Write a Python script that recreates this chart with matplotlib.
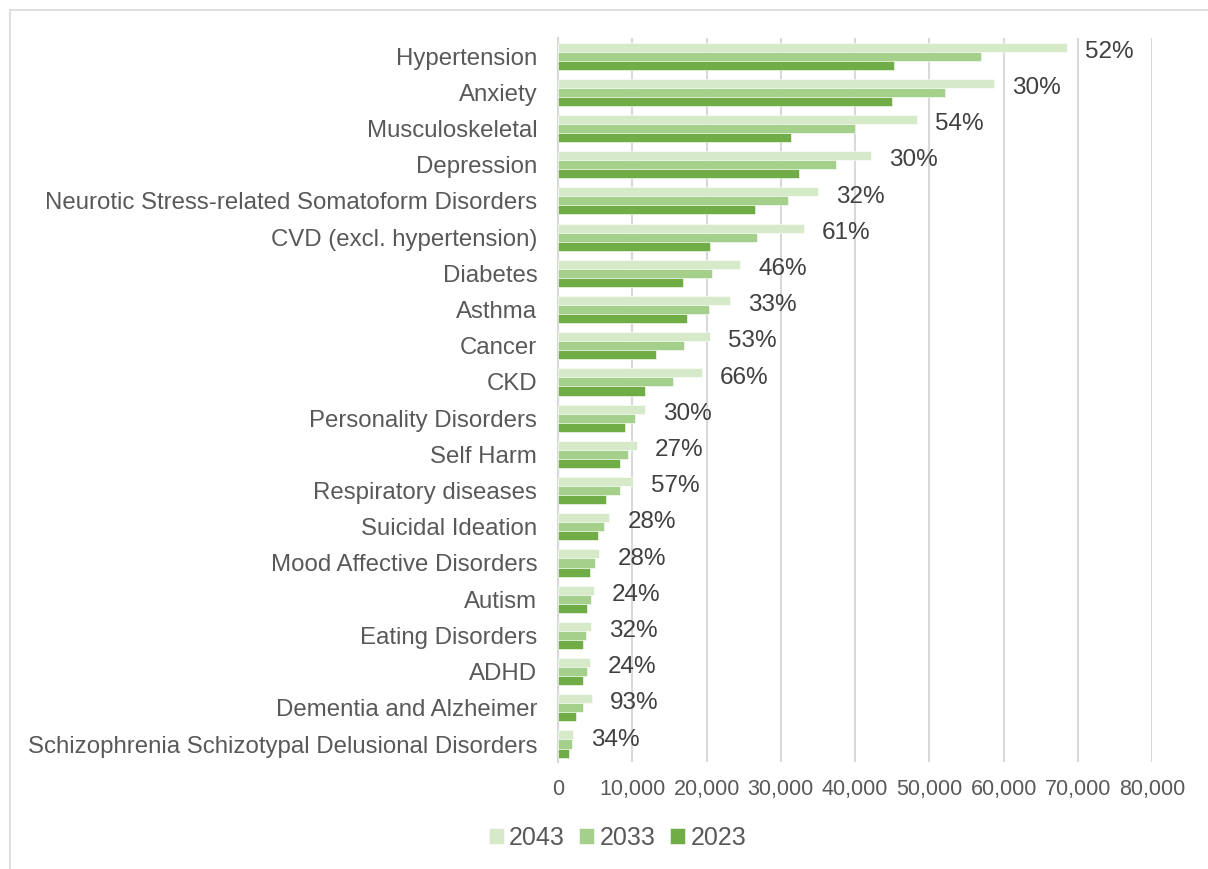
import matplotlib
matplotlib.use("Agg")
import matplotlib.pyplot as plt
import matplotlib.patches as mpatches
import matplotlib.ticker as mticker
import numpy as np

plt.rcParams["font.family"] = ["Liberation Sans", "DejaVu Sans"]

# ---------------------------------------------------------
# Data
# ---------------------------------------------------------
conditions = [
    "Hypertension", "Anxiety", "Musculoskeletal", "Depression",
    "Neurotic Stress-related Somatoform Disorders", "CVD (excl. hypertension)",
    "Diabetes", "Asthma", "Cancer", "CKD", "Personality Disorders", "Self Harm",
    "Respiratory diseases", "Suicidal Ideation", "Mood Affective Disorders",
    "Autism", "Eating Disorders", "ADHD", "Dementia and Alzheimer",
    "Schizophrenia Schizotypal Delusional Disorders",
]
cases_2043 = [68600, 58700, 48350, 42150, 35050, 33100, 24550, 23100, 20400, 19350,
              11700, 10600, 10100, 6900, 5550, 4840, 4370, 4250, 4580, 2050]
cases_2033 = [57000, 52100, 40000, 37450, 31000, 26800, 20750, 20300, 16900, 15500,
              10400, 9450, 8350, 6150, 4950, 4450, 3800, 3850, 3400, 1830]
cases_2023 = [45200, 45000, 31400, 32450, 26500, 20500, 16800, 17400, 13250, 11650,
              8980, 8350, 6420, 5380, 4350, 3900, 3320, 3410, 2380, 1500]
growth_labels = ["52%", "30%", "54%", "30%", "32%", "61%", "46%", "33%", "53%", "66%",
                 "30%", "27%", "57%", "28%", "28%", "24%", "32%", "24%", "93%", "34%"]

series_names = ["2043", "2033", "2023"]
colors = ["#d6e9c8", "#a5d08b", "#70ad47"]

# ---------------------------------------------------------
# Chart
# ---------------------------------------------------------
fig = plt.figure(figsize=(12.08, 8.69), dpi=100)
ax = fig.add_axes([0.462, 0.123, 0.4917, 0.8333])

# light chart-area border (Excel style)
fig.patches.append(mpatches.Rectangle((10 / 1208, -0.1), 1.2, 1.1 - 10 / 869,
                                      transform=fig.transFigure, fill=False,
                                      edgecolor="#d9d9d9", linewidth=1.2))

y = np.arange(len(conditions))
h = 0.25
all_series = [cases_2043, cases_2033, cases_2023]
for k, (vals, name, col) in enumerate(zip(all_series, series_names, colors)):
    ax.barh(y + (k - 1) * h, vals, height=h, color=col, edgecolor="white",
            linewidth=0.4, label=name, zorder=3)

for yi, v, lab in zip(y, cases_2043, growth_labels):
    ax.annotate(lab, (v, yi - 0.12), xytext=(13, 0), textcoords="offset points",
                ha="left", va="center", fontsize=17.5, color="#404040")

ax.set_xlim(0, 80000)
ax.set_ylim(len(conditions) - 0.5, -0.5)
ax.xaxis.set_major_locator(mticker.MultipleLocator(10000))
ax.xaxis.set_major_formatter(mticker.FuncFormatter(lambda v, p: f"{v:,.0f}"))
ax.set_yticks(y)
ax.set_yticklabels(conditions)

ax.grid(axis="x", color="#d9d9d9", linewidth=1.5, zorder=0)
ax.set_axisbelow(True)
for s in ["top", "right", "bottom"]:
    ax.spines[s].set_visible(False)
ax.spines["left"].set_color("#d9d9d9")
ax.spines["left"].set_linewidth(1.5)

ax.tick_params(axis="y", length=0, pad=15, labelsize=17.3, labelcolor="#595959")
ax.tick_params(axis="x", length=0, pad=12, labelsize=15.5, labelcolor="#595959")

ax.legend(loc="center", bbox_to_anchor=(0.511, 0.036), bbox_transform=fig.transFigure,
          ncol=3, frameon=False, fontsize=18, labelcolor="#595959",
          handlelength=0.6, handleheight=0.6, handletextpad=0.2, columnspacing=0.6)

plt.savefig("out.png", dpi=100)
plt.close()
